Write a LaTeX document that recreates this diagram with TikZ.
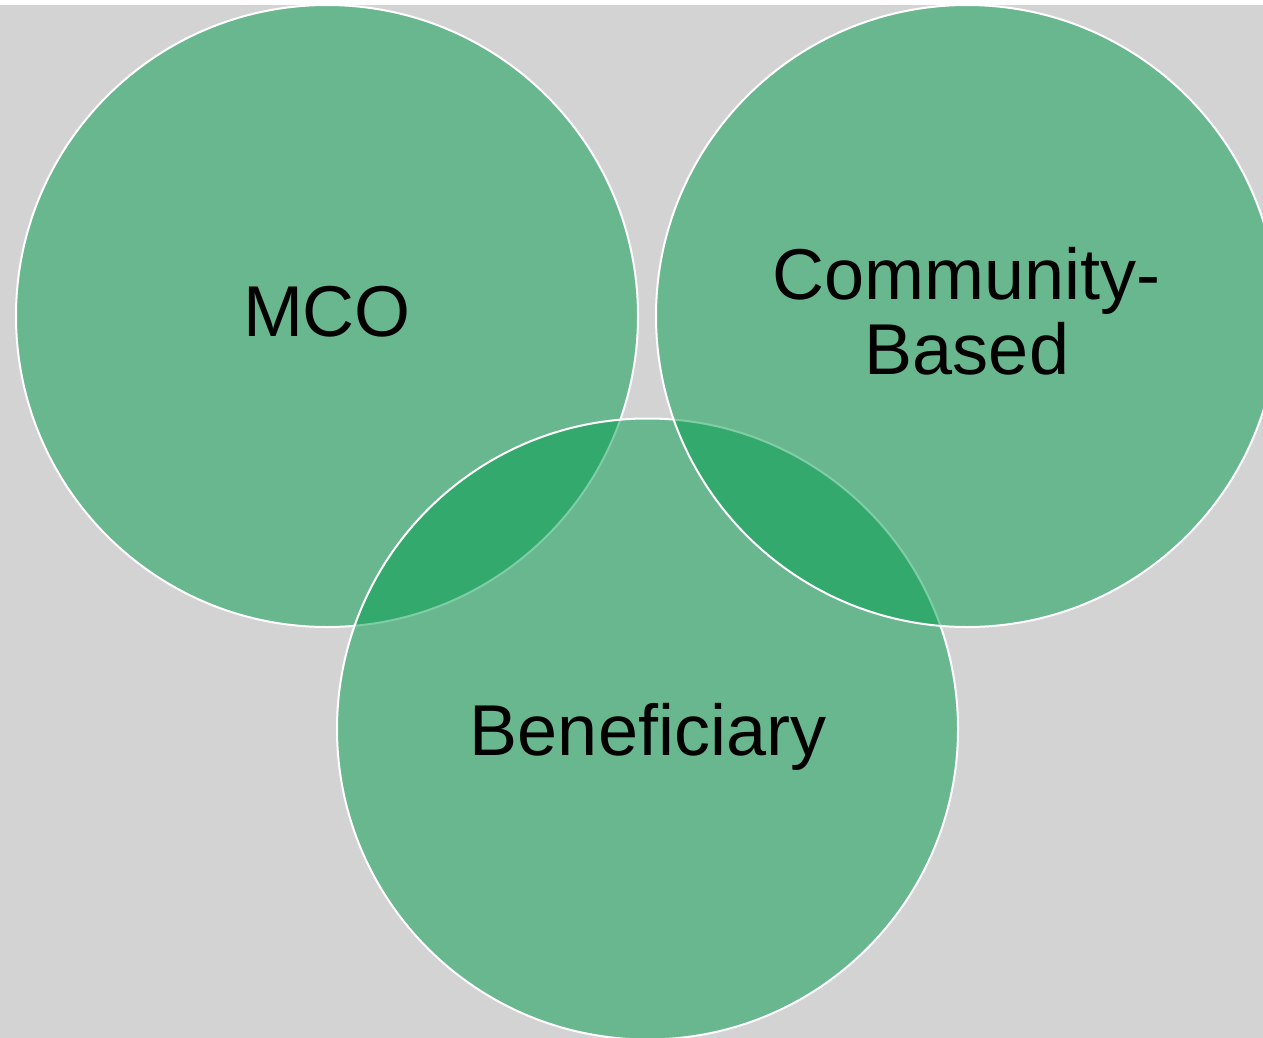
\documentclass[tikz,border=0pt]{standalone}
\usepackage{fontspec}
\setmainfont{Liberation Sans}
\definecolor{bggrey}{RGB}{211,211,211}
\definecolor{venngreen}{RGB}{0,157,77}
\begin{document}
\begin{tikzpicture}[x=1pt,y=-1pt,
  venn/.style={circle, inner sep=0pt, outer sep=0pt, minimum size=#1,
    draw=white, line width=2pt, fill=venngreen, fill opacity=0.5, draw opacity=1},
  lbl/.style={anchor=base, inner sep=0pt, text=black,
    font=\fontsize{72}{75}\selectfont}]
\useasboundingbox (0,0) rectangle (1263,1038);
\fill[white] (0,0) rectangle (1263,1038);
\fill[bggrey] (0,5) rectangle (1263,1038);
\begin{scope}
\clip (0,0) rectangle (1263,1038);
\node[venn=622pt] (mco) at (327,316) {};
\node[venn=621pt] (ben) at (647.5,729) {};
\node[venn=622pt] (com) at (967,316) {};
\end{scope}
\node[lbl] (mcotext) at (327,336.5) {MCO};
\node[lbl] (comtext1) at (966.5,299) {Community-};
\node[lbl] (comtext2) at (967,374) {Based};
\node[lbl] (bentext) at (648,755) {Beneficiary};
\end{tikzpicture}
\end{document}
